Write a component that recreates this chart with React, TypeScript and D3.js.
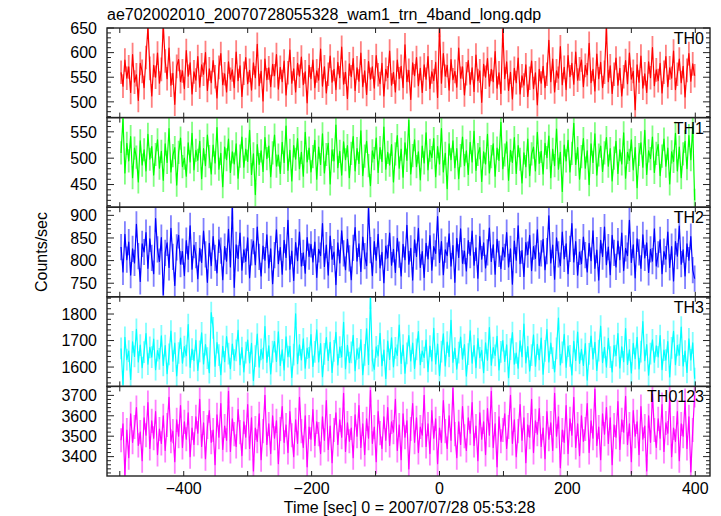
import React from "react";
import * as d3 from "d3";

const title = "ae702002010_20070728055328_wam1_trn_4band_long.qdp";
const xLabel = "Time [sec] 0 = 2007/07/28 05:53:28";
const yLabel = "Counts/sec";
const bandNames = ["TH0", "TH1", "TH2", "TH3", "TH0123"];
const bandColors = ["#ff0000", "#00ff00", "#0000ff", "#00ffff", "#ff00ff"];
const xTickLabels = [-400, -200, 0, 200, 400];
const binStart = -498;
const binWidth = 3;
const bandErrors = [24, 22, 29, 41, 59];

const th0 = [
  560, 532, 585, 548, 571, 519, 596, 540, 555, 503, 578, 562, 529, 590, 652, 568, 512, 574, 550, 599,
  538, 566, 655, 583, 547, 609, 534, 558, 495, 572, 586, 541, 563, 527, 604, 552, 579, 516, 561, 544,
  592, 530, 575, 556, 600, 523, 567, 539, 584, 551, 508, 570, 598, 535, 557, 520, 581, 546, 565, 529,
  601, 543, 573, 511, 558, 590, 537, 564, 524, 579, 549, 617, 533, 562, 502, 587, 545, 569, 531, 576,
  553, 596, 526, 570, 541, 583, 514, 559, 605, 538, 567, 520, 578, 552, 591, 535, 561, 498, 574, 547,
  585, 529, 563, 544, 607, 532, 571, 518, 556, 593, 540, 566, 525, 580, 549, 611, 536, 560, 507, 577,
  551, 588, 523, 569, 542, 599, 531, 563, 515, 582, 546, 571, 528, 594, 555, 537, 578, 512, 566, 549,
  603, 534, 560, 520, 585, 547, 572, 529, 616, 541, 564, 505, 579, 553, 590, 533, 568, 519, 575, 546,
  592, 527, 561, 543, 580, 509, 655, 538, 598, 552, 574, 524, 586, 545, 562, 530, 609, 548, 571, 514,
  557, 584, 536, 569, 521, 595, 543, 563, 499, 576, 550, 588, 532, 566, 541, 602, 528, 559, 517, 648,
  547, 581, 523, 560, 506, 568, 539, 589, 516, 553, 534, 575, 511, 548, 583, 527, 559, 494, 566, 538,
  572, 529, 556, 625, 541, 587, 520, 563, 548, 612, 535, 570, 525, 594, 551, 578, 536, 601, 544, 567,
  585, 531, 574, 555, 619, 539, 566, 522, 597, 547, 580, 529, 560, 650, 541, 573, 517, 556, 589, 534,
  568, 512, 551, 584, 537, 599, 546, 562, 484, 575, 540, 593, 528, 557, 519, 581, 549, 610, 533, 565,
  543, 578, 518, 560, 592, 531, 569, 548, 603, 525, 556, 587, 539, 572, 510, 564, 598, 542, 577, 553,
];

const th1 = [
  510, 575, 472, 528, 495, 541, 463, 519, 502, 455, 533, 487, 516, 476, 545, 498, 522, 468, 507, 535,
  481, 513, 458, 527, 492, 556, 474, 505, 520, 449, 511, 538, 484, 500, 466, 529, 493, 547, 478, 515,
  496, 532, 461, 518, 486, 544, 503, 470, 525, 491, 558, 479, 509, 446, 521, 497, 536, 473, 512, 489,
  527, 462, 504, 540, 483, 517, 494, 553, 469, 508, 431, 526, 488, 514, 475, 539, 499, 523, 465, 510,
  544, 485, 506, 471, 530, 492, 561, 477, 515, 457, 524, 498, 537, 480, 511, 466, 549, 493, 519, 474,
  503, 534, 460, 521, 488, 546, 472, 507, 528, 451, 516, 495, 563, 482, 513, 468, 531, 497, 524, 463,
  509, 541, 476, 518, 490, 552, 467, 504, 532, 486, 448, 514, 499, 538, 473, 520, 494, 559, 479, 511,
  487, 526, 455, 508, 543, 481, 517, 464, 529, 496, 572, 470, 505, 535, 484, 512, 459, 523, 491, 548,
  478, 515, 501, 537, 465, 522, 489, 556, 474, 509, 442, 527, 497, 533, 482, 518, 461, 505, 540, 486,
  514, 469, 530, 493, 551, 477, 507, 520, 456, 512, 489, 545, 472, 503, 527, 466, 519, 496, 568, 480,
  506, 531, 458, 515, 492, 539, 471, 524, 498, 453, 510, 484, 536, 467, 508, 521, 476, 549, 490, 513,
  470, 528, 501, 542, 463, 517, 486, 555, 479, 511, 437, 525, 495, 534, 474, 509, 566, 488, 520, 460,
  503, 537, 481, 514, 450, 527, 492, 546, 468, 506, 523, 475, 510, 539, 485, 518, 457, 500, 532, 471,
  516, 489, 548, 462, 511, 496, 535, 478, 520, 444, 507, 529, 483, 553, 469, 514, 499, 540, 473, 509,
  526, 467, 504, 536, 485, 519, 451, 512, 494, 547, 476, 521, 463, 508, 532, 480, 543, 497, 560, 420,
];

const th2 = [
  830, 775, 858, 802, 841, 768, 826, 795, 880, 810, 754, 837, 819, 862, 783, 848, 806, 771, 893, 825,
  798, 851, 725, 817, 839, 785, 871, 808, 745, 829, 856, 792, 820, 767, 844, 803, 877, 781, 834, 812,
  760, 827, 796, 865, 814, 752, 838, 789, 853, 806, 773, 846, 822, 758, 831, 799, 869, 786, 920, 741,
  835, 805, 861, 779, 824, 798, 850, 762, 818, 843, 791, 874, 808, 766, 832, 801, 857, 784, 826, 749,
  812, 868, 793, 829, 770, 845, 807, 889, 781, 821, 756, 840, 800, 863, 788, 817, 772, 851, 809, 836,
  797, 841, 763, 825, 811, 882, 787, 834, 768, 854, 803, 819, 747, 839, 795, 866, 816, 780, 847, 805,
  758, 828, 873, 799, 837, 776, 852, 810, 789, 915, 823, 767, 842, 801, 858, 784, 818, 751, 832, 806,
  861, 790, 825, 774, 849, 813, 766, 836, 802, 878, 792, 827, 757, 846, 809, 871, 785, 820, 763, 838,
  804, 855, 779, 831, 816, 897, 796, 842, 769, 824, 811, 859, 788, 833, 752, 849, 807, 870, 794, 821,
  777, 844, 812, 865, 790, 828, 761, 853, 803, 839, 784, 818, 872, 798, 835, 770, 847, 815, 782, 829,
  808, 862, 786, 826, 748, 843, 801, 877, 793, 822, 765, 840, 813, 856, 778, 831, 805, 868, 789, 816,
  847, 780, 821, 899, 795, 834, 759, 850, 814, 789, 863, 804, 837, 771, 826, 882, 797, 842, 768, 819,
  793, 852, 812, 775, 838, 800, 866, 783, 823, 757, 845, 809, 874, 791, 830, 769, 856, 817, 786, 843,
  802, 861, 778, 827, 811, 889, 796, 835, 762, 848, 818, 783, 857, 806, 839, 774, 825, 799, 870, 788,
  814, 846, 771, 820, 803, 863, 785, 831, 755, 842, 810, 876, 792, 824, 766, 837, 801, 853, 779, 760,
];

const th3 = [
  1670, 1535, 1712, 1628, 1660, 1553, 1695, 1640, 1742, 1619, 1683, 1598, 1656, 1726, 1611, 1674, 1637, 1705, 1590, 1662,
  1631, 1718, 1606, 1681, 1575, 1648, 1736, 1622, 1690, 1567, 1653, 1709, 1615, 1677, 1643, 1760, 1599, 1668, 1624, 1701,
  1587, 1659, 1729, 1612, 1685, 1634, 1579, 1805, 1748, 1603, 1692, 1645, 1571, 1678, 1620, 1715, 1651, 1594, 1687, 1626,
  1663, 1738, 1609, 1673, 1582, 1654, 1702, 1616, 1689, 1549, 1641, 1724, 1600, 1667, 1632, 1753, 1618, 1680, 1574, 1658,
  1696, 1621, 1733, 1606, 1665, 1589, 1714, 1639, 1678, 1561, 1647, 1801, 1613, 1684, 1627, 1706, 1596, 1671, 1635, 1722,
  1602, 1657, 1740, 1619, 1688, 1564, 1650, 1711, 1625, 1693, 1580, 1661, 1731, 1608, 1675, 1638, 1769, 1594, 1682, 1617,
  1655, 1720, 1586, 1669, 1633, 1703, 1571, 1646, 1744, 1610, 1860, 1624, 1591, 1676, 1642, 1727, 1605, 1664, 1557, 1698,
  1629, 1710, 1601, 1672, 1644, 1758, 1614, 1683, 1577, 1652, 1719, 1623, 1690, 1595, 1667, 1734, 1609, 1660, 1636, 1702,
  1583, 1679, 1623, 1746, 1612, 1687, 1568, 1658, 1725, 1604, 1694, 1640, 1776, 1618, 1671, 1592, 1654, 1713, 1630, 1685,
  1566, 1649, 1737, 1615, 1681, 1598, 1707, 1635, 1663, 1579, 1691, 1626, 1749, 1607, 1673, 1644, 1716, 1589, 1657, 1700,
  1621, 1684, 1560, 1668, 1730, 1611, 1653, 1596, 1699, 1639, 1762, 1616, 1677, 1585, 1645, 1721, 1603, 1686, 1628, 1709,
  1573, 1661, 1741, 1619, 1690, 1634, 1582, 1670, 1785, 1608, 1655, 1723, 1599, 1679, 1642, 1570, 1697, 1625, 1732, 1614,
  1667, 1606, 1688, 1551, 1650, 1717, 1631, 1693, 1587, 1662, 1754, 1617, 1674, 1600, 1708, 1637, 1582, 1681, 1643, 1726,
  1597, 1676, 1620, 1745, 1610, 1665, 1578, 1689, 1632, 1712, 1593, 1658, 1771, 1624, 1685, 1569, 1651, 1703, 1618, 1680,
  1638, 1719, 1590, 1664, 1626, 1696, 1563, 1672, 1735, 1609, 1682, 1645, 1751, 1604, 1660, 1580, 1706, 1627, 1691, 1556,
];

const th0123 = [
  3480, 3560, 3310, 3530, 3395, 3610, 3470, 3545, 3640, 3455, 3520, 3380, 3590, 3505, 3665, 3440, 3575, 3490, 3620, 3410,
  3535, 3465, 3600, 3430, 3555, 3690, 3475, 3525, 3375, 3580, 3500, 3650, 3445, 3570, 3485, 3615, 3400, 3540, 3460, 3595,
  3515, 3680, 3450, 3565, 3390, 3545, 3625, 3470, 3530, 3360, 3605, 3495, 3660, 3435, 3550, 3480, 3720, 3425, 3585, 3510,
  3450, 3630, 3520, 3405, 3570, 3495, 3655, 3440, 3590, 3330, 3540, 3475, 3610, 3385, 3525, 3700, 3460, 3560, 3415, 3600,
  3490, 3575, 3365, 3535, 3645, 3470, 3555, 3420, 3620, 3505, 3400, 3580, 3465, 3690, 3525, 3445, 3600, 3350, 3545, 3485,
  3630, 3455, 3570, 3510, 3415, 3595, 3480, 3675, 3435, 3550, 3370, 3530, 3615, 3460, 3580, 3495, 3710, 3425, 3565, 3475,
  3540, 3395, 3605, 3500, 3650, 3445, 3560, 3410, 3585, 3490, 3725, 3465, 3545, 3375, 3620, 3515, 3440, 3595, 3480, 3640,
  3455, 3570, 3520, 3680, 3430, 3555, 3385, 3610, 3495, 3575, 3340, 3535, 3660, 3470, 3590, 3420, 3545, 3505, 3700, 3450,
  3560, 3415, 3625, 3490, 3585, 3365, 3540, 3470, 3675, 3525, 3440, 3600, 3480, 3735, 3510, 3395, 3570, 3460, 3645, 3500,
  3430, 3590, 3515, 3665, 3455, 3550, 3380, 3615, 3485, 3570, 3410, 3635, 3505, 3720, 3445, 3560, 3350, 3595, 3475, 3530,
  3610, 3440, 3545, 3700, 3465, 3580, 3400, 3525, 3655, 3480, 3590, 3370, 3555, 3495, 3680, 3420, 3575, 3510, 3635, 3450,
  3540, 3390, 3620, 3485, 3565, 3430, 3710, 3500, 3595, 3345, 3530, 3470, 3650, 3415, 3585, 3505, 3690, 3445, 3560, 3405,
  3600, 3475, 3535, 3660, 3420, 3575, 3490, 3730, 3455, 3545, 3385, 3610, 3510, 3640, 3465, 3590, 3360, 3555, 3495, 3670,
  3435, 3580, 3520, 3695, 3460, 3560, 3375, 3625, 3500, 3570, 3410, 3645, 3485, 3550, 3330, 3600, 3470, 3705, 3530, 3445,
  3585, 3490, 3655, 3425, 3565, 3515, 3690, 3400, 3540, 3475, 3620, 3380, 3560, 3500, 3675, 3440, 3595, 3325, 3530, 3700,
];

const bandValues = [th0, th1, th2, th3, th0123];
const yDomains: [number, number][] = [
  [468, 650],
  [407, 577],
  [720, 918],
  [1527, 1865],
  [3305, 3744],
];
const yMajorTicks = [
  [500, 550, 600, 650],
  [450, 500, 550],
  [750, 800, 850, 900],
  [1600, 1700, 1800],
  [3400, 3500, 3600, 3700],
];
const yMinorSteps = [10, 10, 10, 20, 20];

const W = 721;
const H = 516;
const L = 107;
const R = 710;
const T = 28;
const B = 476;
const FONT = "'Liberation Sans', Arial, Helvetica, sans-serif";
const AXIS = "#222";

export default function App() {
  const x = d3.scaleLinear().domain([-520, 423]).range([L, R]);
  const panelH = (B - T) / bandNames.length;
  const xTicksAll = d3.range(-500, 401, 100);

  return (
    <svg width={W} height={H} style={{ position: "absolute", left: 0, top: 0, background: "#fff" }} fontFamily={FONT}>
      <defs>
        {bandNames.map((n, k) => (
          <clipPath id={`clip${k}`} key={n}>
            <rect x={L} y={T + k * panelH} width={R - L} height={panelH} />
          </clipPath>
        ))}
      </defs>
      <text x={L} y={20} fontSize={16} fill="#000">{title}</text>
      {bandNames.map((name, k) => {
        const top = T + k * panelH;
        const bot = top + panelH;
        const y = d3.scaleLinear().domain(yDomains[k]).range([bot, top]);
        const vals = bandValues[k];
        const pts = vals.map((v, i) => [x(binStart + i * binWidth), y(v)] as [number, number]);
        const line = d3.line()(pts) || "";
        const err = bandErrors[k];
        const errPath = vals
          .map((v, i) => `M${x(binStart + i * binWidth).toFixed(2)},${y(v - err).toFixed(2)}V${y(v + err).toFixed(2)}`)
          .join("");
        const [d0, d1] = yDomains[k];
        const minor = d3.range(Math.ceil(d0 / yMinorSteps[k]) * yMinorSteps[k], d1 + 0.001, yMinorSteps[k]);
        return (
          <g key={name}>
            <g clipPath={`url(#clip${k})`}>
              <path d={errPath} stroke={bandColors[k]} strokeOpacity={0.5} strokeWidth={1.8} fill="none" />
              <path d={line} stroke={bandColors[k]} strokeWidth={1.2} fill="none" strokeLinejoin="round" />
            </g>
            {minor.map((v) => {
              const isMajor = yMajorTicks[k].includes(v);
              const len = isMajor ? 7 : 4;
              return (
                <g key={v}>
                  <line x1={L} x2={L + len} y1={y(v)} y2={y(v)} stroke={AXIS} strokeWidth={1} />
                  <line x1={R} x2={R - len} y1={y(v)} y2={y(v)} stroke={AXIS} strokeWidth={1} />
                </g>
              );
            })}
            {yMajorTicks[k].map((v) => (
              <text key={v} x={97} y={y(v)} dy="0.36em" textAnchor="end" fontSize={16} fill="#000">
                {v}
              </text>
            ))}
            {xTicksAll.map((t) => (
              <g key={t}>
                <line x1={x(t)} x2={x(t)} y1={top} y2={top + 5} stroke={AXIS} strokeWidth={1} />
                <line x1={x(t)} x2={x(t)} y1={bot} y2={bot - 5} stroke={AXIS} strokeWidth={1} />
              </g>
            ))}
            <rect x={L} y={top} width={R - L} height={panelH} fill="none" stroke={AXIS} strokeWidth={1.4} />
            <text x={704} y={top + 16} textAnchor="end" fontSize={16} fill="#000">{name}</text>
          </g>
        );
      })}
      {xTickLabels.map((t) => (
        <text key={t} x={x(t)} y={494} textAnchor="middle" fontSize={16} fill="#000">
          {t < 0 ? `\u2212${Math.abs(t)}` : `${t}`}
        </text>
      ))}
      <text x={(L + R) / 2 + 1} y={513} textAnchor="middle" fontSize={16} fill="#000">{xLabel}</text>
      <text transform={`translate(47,${(T + B) / 2}) rotate(-90)`} textAnchor="middle" fontSize={16} fill="#000">
        {yLabel}
      </text>
    </svg>
  );
}
